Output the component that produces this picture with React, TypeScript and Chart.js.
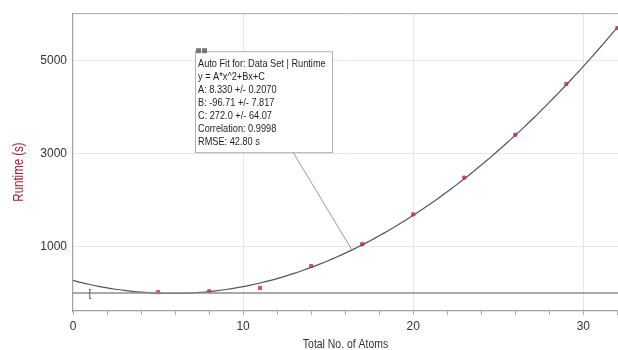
import React, { useEffect, useRef } from "react";
import { Chart, registerables } from "chart.js";

Chart.register(...registerables);

const atoms = [5, 8, 11, 14, 17, 20, 23, 26, 29, 32];
const runtimes = [20, 40, 110, 580, 1050, 1690, 2480, 3400, 4490, 5690];
const fitA = 8.33;
const fitB = -96.71;
const fitC = 272.0;
const fitXs = Array.from({ length: 65 }, (_, i) => i * 0.5);
const yTickValues = [1000, 3000, 5000];
const fitLines = [
  "Auto Fit for: Data Set | Runtime",
  "y = A*x^2+Bx+C",
  "A: 8.330 +/- 0.2070",
  "B: -96.71 +/- 7.817",
  "C: 272.0 +/- 64.07",
  "Correlation: 0.9998",
  "RMSE: 42.80 s",
];
const FONT = "'Liberation Sans', Arial, Helvetica, sans-serif";

const overlay = {
  id: "overlay",
  afterDatasetsDraw(chart: any) {
    const { ctx, chartArea: a, scales } = chart;
    const xs = scales.x;
    const ys = scales.y;
    ctx.save();
    // frame top
    ctx.strokeStyle = "#a8a8a8";
    ctx.lineWidth = 1;
    ctx.beginPath();
    ctx.moveTo(a.left, a.top + 0.5);
    ctx.lineTo(a.right, a.top + 0.5);
    ctx.stroke();
    // bracket near origin
    ctx.fillStyle = "#555";
    ctx.font = `11px ${FONT}`;
    ctx.textAlign = "center";
    ctx.textBaseline = "middle";
    ctx.fillText("[", xs.getPixelForValue(1), ys.getPixelForValue(0) + 1);
    // leader line
    const bx = a.left + 122;
    const by = a.top + 38;
    const bw = 137;
    const bh = 101;
    const endX = 16.4;
    const endY = fitA * endX * endX + fitB * endX + fitC;
    ctx.strokeStyle = "#9a9a9a";
    ctx.beginPath();
    ctx.moveTo(bx + 98, by + bh);
    ctx.lineTo(xs.getPixelForValue(endX), ys.getPixelForValue(endY));
    ctx.stroke();
    // box
    ctx.fillStyle = "#ffffff";
    ctx.fillRect(bx, by, bw, bh);
    ctx.strokeStyle = "#b0b0b0";
    ctx.strokeRect(bx + 0.5, by + 0.5, bw, bh);
    ctx.fillStyle = "#777";
    ctx.fillRect(bx + 1, by - 3, 5, 5);
    ctx.fillRect(bx + 7, by - 3, 5, 5);
    ctx.fillStyle = "#1e1e1e";
    ctx.font = `11.5px ${FONT}`;
    ctx.textAlign = "left";
    ctx.textBaseline = "middle";
    fitLines.forEach((t, i) => {
      ctx.save();
      ctx.translate(bx + 3, by + 13 + i * 13);
      ctx.scale(0.8, 1);
      ctx.fillText(t, 0, 0);
      ctx.restore();
    });
    // x title
    ctx.save();
    ctx.translate((a.left + 618) / 2, 345);
    ctx.scale(0.87, 1);
    ctx.fillStyle = "#333";
    ctx.font = `12px ${FONT}`;
    ctx.textAlign = "center";
    ctx.textBaseline = "middle";
    ctx.fillText("Total No. of Atoms", 0, 0);
    ctx.restore();
    // y title
    ctx.translate(19, 172);
    ctx.rotate(-Math.PI / 2);
    ctx.fillStyle = "#a51d36";
    ctx.font = `14px ${FONT}`;
    ctx.textAlign = "center";
    ctx.textBaseline = "middle";
    ctx.scale(0.82, 1);
    ctx.fillText("Runtime (s)", 0, 0);
    ctx.restore();
  },
};

export default function App() {
  const ref = useRef<HTMLCanvasElement>(null);
  useEffect(() => {
    document.body.style.margin = "0";
    const chart = new Chart(ref.current!, {
      type: "scatter",
      data: {
        datasets: [
          {
            data: [{ x: 0, y: 0 }, { x: 32.05, y: 0 }],
            showLine: true,
            borderColor: "#8c8c8c",
            borderWidth: 1.5,
            pointRadius: 0,
          },
          {
            data: fitXs.map((x) => ({ x, y: fitA * x * x + fitB * x + fitC })),
            showLine: true,
            borderColor: "#555555",
            borderWidth: 1.2,
            pointRadius: 0,
            tension: 0.3,
          },
          {
            data: atoms.map((x, i) => ({ x, y: runtimes[i] })),
            pointStyle: "rect",
            pointRadius: 2.2,
            backgroundColor: "#f4507a",
            borderColor: "#ec2050",
            borderWidth: 0.8,
          },
        ],
      },
      options: {
        animation: false,
        responsive: false,
        maintainAspectRatio: false,
        layout: { padding: { top: 12, right: 0, left: 0, bottom: 0 } },
        plugins: { legend: { display: false }, tooltip: { enabled: false } },
        scales: {
          x: {
            type: "linear",
            min: 0,
            max: 32.05,
            afterFit: (s: any) => {
              s.height = 39;
            },
            afterBuildTicks: (s: any) => {
              const t = [];
              for (let v = 0; v <= 32; v += 2) t.push({ value: v });
              s.ticks = t;
            },
            ticks: {
              autoSkip: false,
              maxRotation: 0,
              padding: 4,
              color: "#333",
              font: { family: FONT, size: 12 },
              callback: (v: any) => (Number(v) % 10 === 0 ? String(v) : ""),
            },
            grid: {
              color: (c: any) =>
                c.tick && c.tick.value % 10 === 0 && c.tick.value !== 0 ? "#e6e6e6" : "rgba(0,0,0,0)",
              tickColor: "#aaa",
              tickLength: 4,
            },
            border: { color: "#a0a0a0", width: 1.2 },
          },
          y: {
            min: -385,
            max: 6010,
            afterFit: (s: any) => {
              s.width = 73;
            },
            afterBuildTicks: (s: any) => {
              s.ticks = yTickValues.map((v) => ({ value: v }));
            },
            ticks: {
              color: "#333",
              padding: 6,
              font: { family: FONT, size: 12 },
              callback: (v: any) => String(v),
            },
            grid: { color: "#e8e8e8", drawTicks: false },
            border: { color: "#a0a0a0", width: 1.2 },
          },
        },
      },
      plugins: [overlay],
    } as any);
    return () => chart.destroy();
  }, []);
  return (
    <div style={{ width: 618, height: 350, overflow: "hidden" }}>
      <canvas ref={ref} width={623} height={350} style={{ display: "block" }} />
    </div>
  );
}
